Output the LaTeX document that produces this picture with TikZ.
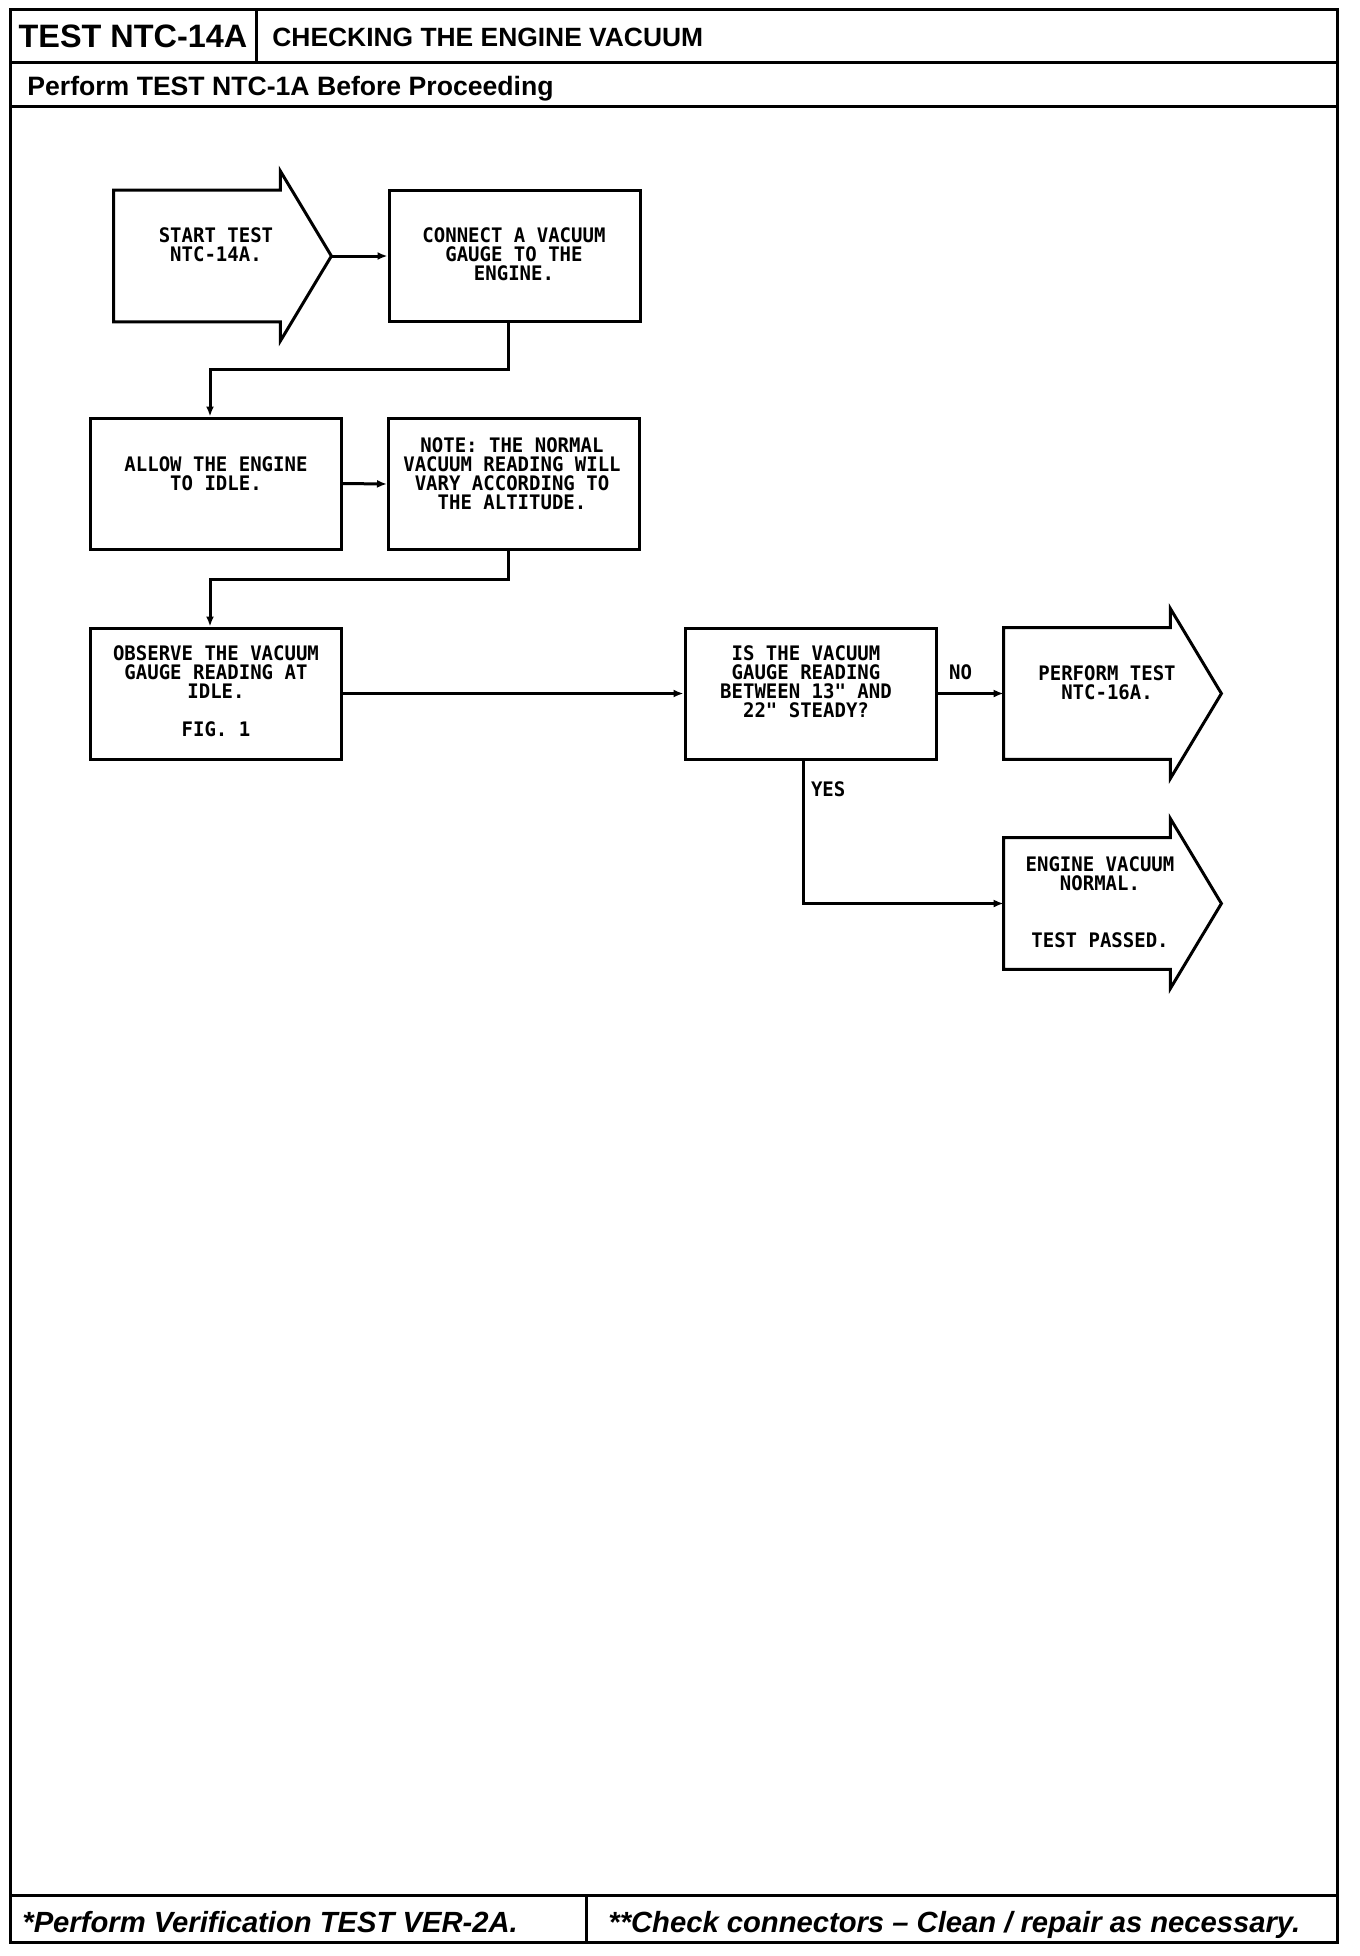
\documentclass[tikz,border=0pt]{standalone}
\usepackage{fontspec}
\setmainfont{Liberation Sans}
\newfontfamily\plotfont[FakeStretch=0.95]{DejaVu Sans Mono}
\usetikzlibrary{arrows.meta,calc}

\begin{document}
\begin{tikzpicture}[x=0.5pt, y=-0.5pt, >={Latex[length=5pt,width=4pt]},
  every node/.style={inner sep=0pt},
  frm/.style={line width=1.5pt},
  box/.style={draw, line width=1.5pt, minimum width=125.5pt, minimum height=65.5pt},
  shaft/.style={minimum width=83pt, minimum height=65.5pt},
  txt/.style={anchor=north, align=center, font=\plotfont\bfseries\fontsize{10}{9.5}\selectfont},
  lbl/.style={font=\plotfont\bfseries\fontsize{10}{9.5}\selectfont},
  ln/.style={line width=1.5pt, ->}]
  \useasboundingbox (0,0) rectangle (1360,1956);

  % sheet frame
  \draw[frm] (10,9) rectangle (1337,1942);
  \draw[frm] (10,62) -- (1337,62);
  \draw[frm] (256,9) -- (256,62);
  \draw[frm] (10,106) -- (1337,106);
  \draw[frm] (10,1895) -- (1337,1895);
  \draw[frm] (586,1895) -- (586,1942);
  \node[anchor=base, font=\bfseries\fontsize{16.2}{18}\selectfont] (testno) at (133,47) {TEST NTC-14A};
  \node[anchor=base west, font=\bfseries\fontsize{13.2}{15}\selectfont] (title) at (272,46) {CHECKING THE ENGINE VACUUM};
  \node[anchor=base west, font=\bfseries\fontsize{13.3}{15}\selectfont] (pre) at (27,95) {Perform TEST NTC-1A Before Proceeding};
  \node[anchor=base west, font=\bfseries\itshape\fontsize{14.6}{16}\selectfont] (verify) at (22,1932) {*Perform Verification TEST VER-2A.};
  \node[anchor=base west, font=\bfseries\itshape\fontsize{14.6}{16}\selectfont] (check) at (608,1932) {**Check connectors -- Clean / repair as necessary.};

  % steps
  \node[shaft] (start) at (197,256) {};
  \draw[frm] (start.north west) -- (start.north east) -- ++(0,-19) -- ($(start.east)+(51,0)$)
    -- ($(start.south east)+(0,19)$) -- (start.south east) -- (start.south west) -- cycle;
  \coordinate (start-tip) at ($(start.east)+(51,0)$);
  \node[txt] (start-t) at (216,227) {START TEST\\NTC-14A.};

  \node[box] (connect) at (514.5,256) {};
  \node[txt] (connect-t) at (514,227) {CONNECT A VACUUM\\GAUGE TO THE\\ENGINE.};

  \node[box] (allow) at (216,483.5) {};
  \node[txt] (allow-t) at (216,456) {ALLOW THE ENGINE\\TO IDLE.};

  \node[box] (note) at (514,484) {};
  \node[txt] (note-t) at (512,437) {NOTE: THE NORMAL\\VACUUM READING WILL\\VARY ACCORDING TO\\THE ALTITUDE.};

  \node[box] (observe) at (216,693.5) {};
  \node[txt] (observe-t) at (216,645) {OBSERVE THE VACUUM\\GAUGE READING AT\\IDLE.\\[9.5pt]FIG. 1};

  \node[box] (is) at (810.5,693.5) {};
  \node[txt] (is-t) at (806,645) {IS THE VACUUM\\GAUGE READING\\BETWEEN 13" AND\\22" STEADY?};

  \node[shaft] (perform) at (1087,693.5) {};
  \draw[frm] (perform.north west) -- (perform.north east) -- ++(0,-19) -- ($(perform.east)+(51,0)$)
    -- ($(perform.south east)+(0,19)$) -- (perform.south east) -- (perform.south west) -- cycle;
  \node[txt] (perform-t) at (1107,665) {PERFORM TEST\\NTC-16A.};

  \node[shaft] (engine) at (1087,903.5) {};
  \draw[frm] (engine.north west) -- (engine.north east) -- ++(0,-19) -- ($(engine.east)+(51,0)$)
    -- ($(engine.south east)+(0,19)$) -- (engine.south east) -- (engine.south west) -- cycle;
  \node[txt] (engine-t) at (1100,856) {ENGINE VACUUM\\NORMAL.\\[19pt]TEST PASSED.};

  % flow
  \draw[ln] (start-tip) -- (connect.west);
  \draw[ln] ([xshift=-3pt]connect.south) -- ++(0,46) -| ([xshift=-3pt]allow.north);
  \draw[ln] (allow.east) -- (note.west);
  \draw[ln] ([xshift=-3pt]note.south) -- ++(0,28) -| ([xshift=-3pt]observe.north);
  \draw[ln] (observe.east) -- (is.west);
  \draw[ln] (is.east) -- node[lbl, above=6pt, xshift=-5pt] (no) {NO} (perform.west);
  \draw[ln] ([xshift=-3.5pt]is.south) |- node[lbl, pos=0.1, right=3pt] (yes) {YES} (engine.west);
\end{tikzpicture}
\end{document}
